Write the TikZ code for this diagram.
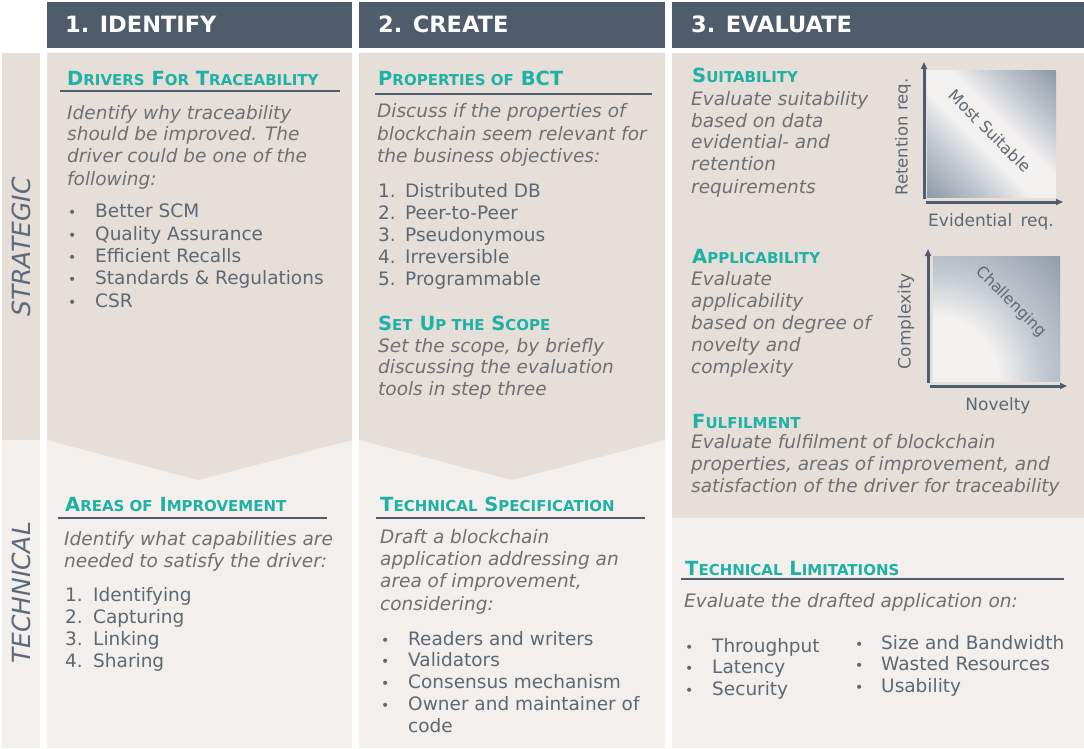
\documentclass[tikz,border=0pt]{standalone}
\usepackage{fontspec}
\setmainfont{DejaVu Sans}
\usetikzlibrary{arrows.meta}
\definecolor{hdr}{HTML}{4E5C6B}
\definecolor{beige}{HTML}{E5DED9}
\definecolor{lightbg}{HTML}{F2EFEC}
\definecolor{tealc}{HTML}{1EB1A4}
\definecolor{bodyc}{HTML}{6E7073}
\definecolor{listc}{HTML}{5D6872}
\definecolor{lblc}{HTML}{5B6979}
\definecolor{cdark}{HTML}{8F9BA9}
\definecolor{cmid}{HTML}{C4CAD2}
\definecolor{clight}{HTML}{F3F1EF}
\pgfdeclarehorizontalshading{diagshade}{100bp}{color(0bp)=(cdark); color(15bp)=(cdark); color(32bp)=(cmid); color(44bp)=(clight); color(56bp)=(clight); color(68bp)=(cmid); color(85bp)=(cdark); color(100bp)=(cdark)}
\pgfdeclareradialshading{cornershade}{\pgfpointorigin}{color(0bp)=(clight); color(9bp)=(clight); color(15bp)=(cmid); color(25bp)=(cdark); color(50bp)=(cdark)}
\newcommand\BL[1]{{\fontsize{19.5}{22}\selectfont #1}}
\newcommand\SL[1]{{\fontsize{15}{22}\selectfont #1}}
\tikzset{
  txt/.style={anchor=base west, inner sep=0pt, align=left},
  body/.style={txt, font=\fontsize{18.5}{22}\selectfont\itshape, text=bodyc},
  lst/.style={txt, font=\fontsize{18.5}{22}\selectfont, text=listc},
  bul/.style={txt, font=\fontsize{14}{22}\selectfont, text=listc},
  head/.style={txt, font=\fontsize{19.5}{22}\selectfont\bfseries, text=tealc},
  hdrtxt/.style={txt, font=\fontsize{22.5}{24}\selectfont\bfseries, text=white},
  lbl/.style={anchor=center, inner sep=0pt, font=\fontsize{25}{25}\selectfont\itshape, text=lblc},
  axlbl/.style={inner sep=0pt, font=\fontsize{16.5}{18}\selectfont, text=listc},
  ulin/.style={draw=hdr, line width=2.5pt},
  ax/.style={draw=hdr, line width=3pt, -{Triangle[length=7pt,width=6pt]}},
}
\begin{document}
% multi-line nodes: the base anchor is the baseline of the LAST line
\begin{tikzpicture}[x=1pt,y=-1pt]
\useasboundingbox (0,0) rectangle (1084,749);
\fill[white] (0,0) rectangle (1084,749);
% header bars
\fill[hdr] (47,2) rectangle (352,48);
\fill[hdr] (359,2) rectangle (665,48);
\fill[hdr] (672,2) rectangle (1084,48);
\node[hdrtxt] (t1) at (65,33) {1. IDENTIFY};
\node[hdrtxt] (t2) at (378,33) {2. CREATE};
\node[hdrtxt] (t3) at (691,33) {3. EVALUATE};
% left label column
\fill[lightbg] (2,53) rectangle (40,748);
\fill[beige] (2,53) rectangle (40,440);
\node[lbl, rotate=90] (ls) at (21,247) {STRATEGIC};
\node[lbl, rotate=90] (lt) at (21,593) {TECHNICAL};
% column 1
\fill[lightbg] (47,53) rectangle (352,748);
\fill[beige] (47,53) -- (352,53) -- (352,440) -- (198,480) -- (47,440) -- cycle;
% column 2
\fill[lightbg] (359,53) rectangle (665,748);
\fill[beige] (359,53) -- (665,53) -- (665,440) -- (512,480) -- (359,440) -- cycle;
% column 3
\fill[lightbg] (672,53) rectangle (1084,748);
\fill[beige] (672,53) rectangle (1084,518);

% ---- column 1 strategic
\node[head] (d1) at (67,86) {\BL{D}\SL{RIVERS} \BL{F}\SL{OR} \BL{T}\SL{RACEABILITY}};
\draw[ulin] (60,91) -- (340,91);
\node[body] (d1b) at (67,185) {Identify why traceability\\should be improved. The\\driver could be one of the\\following:};
\node[bul, font=\fontsize{14}{22.3}\selectfont] (d1m) at (68,307) {\textbullet\\\textbullet\\\textbullet\\\textbullet\\\textbullet};
\node[lst, font=\fontsize{18.5}{22.3}\selectfont] (d1l) at (95,307) {Better SCM\\Quality Assurance\\Efficient Recalls\\Standards \& Regulations\\CSR};
% ---- column 1 technical
\node[head] (a1) at (65,511) {\BL{A}\SL{REAS OF} \BL{I}\SL{MPROVEMENT}};
\draw[ulin] (58,518) -- (327,518);
\node[body] (a1b) at (64,567) {Identify what capabilities are\\needed to satisfy the driver:};
\node[lst, font=\fontsize{18.5}{21.7}\selectfont] (a1m) at (65,667) {1.\\2.\\3.\\4.};
\node[lst, font=\fontsize{18.5}{21.7}\selectfont] (a1l) at (93,667) {Identifying\\Capturing\\Linking\\Sharing};

% ---- column 2 strategic
\node[head] (p2) at (378,86) {\BL{P}\SL{ROPERTIES OF} \BL{BCT}};
\draw[ulin] (375,94) -- (652,94);
\node[body, font=\fontsize{18.5}{22.5}\selectfont\itshape] (p2b) at (377,163) {Discuss if the properties of\\blockchain seem relevant for\\the business objectives:};
\node[lst] (p2m) at (378,285) {1.\\2.\\3.\\4.\\5.};
\node[lst] (p2l) at (405,285) {Distributed DB\\Peer-to-Peer\\Pseudonymous\\Irreversible\\Programmable};
\node[head] (s2) at (378,330) {\BL{S}\SL{ET} \BL{U}\SL{P THE} \BL{S}\SL{COPE}};
\node[body, font=\fontsize{18.5}{21.5}\selectfont\itshape] (s2b) at (378,395) {Set the scope, by briefly\\discussing the evaluation\\tools in step three};
% ---- column 2 technical
\node[head] (ts) at (380,511) {\BL{T}\SL{ECHNICAL} \BL{S}\SL{PECIFICATION}};
\draw[ulin] (376,518) -- (645,518);
\node[body, font=\fontsize{18.5}{22.3}\selectfont\itshape] (tsb) at (380,610) {Draft a blockchain\\application addressing an\\area of improvement,\\considering:};
\node[bul, font=\fontsize{14}{21.8}\selectfont] (tsm) at (381,710.4) {\textbullet\\\textbullet\\\textbullet\\\textbullet};
\node[lst, font=\fontsize{18.5}{21.8}\selectfont] (tsl) at (408,732.2) {Readers and writers\\Validators\\Consensus mechanism\\Owner and maintainer of\\code};

% ---- column 3 strategic
\node[head] (su) at (692,83) {\BL{S}\SL{UITABILITY}};
\node[body] (sub) at (691,193) {Evaluate suitability\\based on data\\evidential- and\\retention\\requirements};
\shade[shading=diagshade, shading angle=45] (927,71) rectangle (1056,197);
\coordinate (o1) at (924,199);
\coordinate (y1) at (924,62);
\coordinate (x1) at (1063,202);
\coordinate (o1x) at (926,202);
\draw[ax] (o1) -- (y1);
\draw[ax] (o1x) -- (x1);
\node[axlbl, rotate=-45, font=\fontsize{16}{18}\selectfont] (ms) at (990,131) {Most Suitable};
\node[axlbl, rotate=90] (rr) at (903,137) {Retention req.};
\node[axlbl, anchor=base, font=\fontsize{17}{18}\selectfont] (er) at (991,226) {Evidential\, req.};

\node[head] (ap) at (692,263) {\BL{A}\SL{PPLICABILITY}};
\node[body] (apb) at (691,373) {Evaluate\\applicability\\based on degree of\\novelty and\\complexity};
\begin{scope}
\clip (933,256) rectangle (1060,381);
\shade[shading=cornershade] (933,381) circle (180);
\end{scope}
\coordinate (o2) at (928,383);
\coordinate (y2) at (928,249);
\coordinate (o2x) at (930,386);
\coordinate (x2) at (1067,386);
\draw[ax] (o2) -- (y2);
\draw[ax] (o2x) -- (x2);
\node[axlbl, rotate=-45, font=\fontsize{15.5}{18}\selectfont] (ch) at (1011,302) {Challenging};
\node[axlbl, rotate=90, font=\fontsize{17}{18}\selectfont] (cx) at (906,321) {Complexity};
\node[axlbl, anchor=base, font=\fontsize{17}{18}\selectfont] (nv) at (998,410) {Novelty};

\node[head] (fu) at (692,428) {\BL{F}\SL{ULFILMENT}};
\node[body] (fub) at (691,492) {Evaluate fulfilment of blockchain\\properties, areas of improvement, and\\satisfaction of the driver for traceability};
% ---- column 3 technical
\node[head] (tl) at (685,575) {\BL{T}\SL{ECHNICAL} \BL{L}\SL{IMITATIONS}};
\draw[ulin] (681,579) -- (1064,579);
\node[body] (tlb) at (684,607) {Evaluate the drafted application on:};
\node[bul, font=\fontsize{14}{21.5}\selectfont] (tlma) at (685,695) {\textbullet\\\textbullet\\\textbullet};
\node[lst, font=\fontsize{18.5}{21.5}\selectfont] (tlla) at (712,695) {Throughput\\Latency\\Security};
\node[bul, font=\fontsize{14}{21.5}\selectfont] (tlmb) at (855,692) {\textbullet\\\textbullet\\\textbullet};
\node[lst, font=\fontsize{18.5}{21.5}\selectfont] (tllb) at (881,692) {Size and Bandwidth\\Wasted Resources\\Usability};
\end{tikzpicture}
\end{document}
